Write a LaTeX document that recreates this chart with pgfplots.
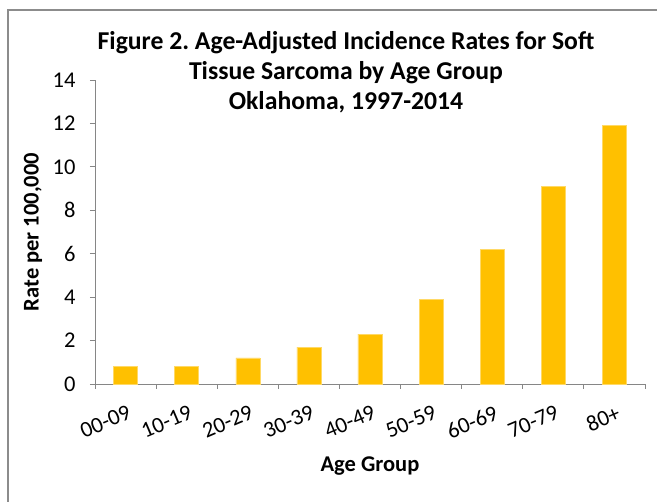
\documentclass[border=0pt]{standalone}
\usepackage{pgfplots}
\pgfplotsset{compat=1.18}
\usepackage{fontspec}
\setmainfont{Carlito}
\frenchspacing
\definecolor{barc}{HTML}{FFC000}
\definecolor{axc}{HTML}{868686}
\definecolor{frc}{HTML}{8C8C8C}
\begin{document}
\begin{tikzpicture}
\begin{axis}[
  scale only axis, width=550pt, height=304pt,
  xmin=-0.5, xmax=8.5, ymin=0, ymax=14,
  ytick={0,2,...,14},
  xtick={-0.5,0.5,...,8.5}, xticklabels={},
  extra x ticks={0,1,...,8},
  extra x tick labels={00-09,10-19,20-29,30-39,40-49,50-59,60-69,70-79,80+},
  extra x tick style={major tick length=0pt, tick label style={xshift=3pt, yshift=-16pt, rotate=23, anchor=north east}},
  axis lines=left,
  axis line style={axc, line width=0.8pt, -},
  tick style={axc, line width=0.8pt},
  tick align=outside,
  major tick length=5pt,
  /pgf/number format/assume math mode=true,
  tick label style={font=\fontsize{22.5}{26}\selectfont, black},
  yticklabel style={xshift=-11pt},
  clip=false,
]
\addplot[ybar, bar width=24pt, fill=barc, draw=barc!60!white, line width=0.5pt] coordinates {
(0,0.8) (1,0.8) (2,1.2) (3,1.7) (4,2.3) (5,3.9) (6,6.2) (7,9.1) (8,11.9)
};
\end{axis}
\begin{scope}[x=1pt,y=1pt]
\draw[frc, line width=2pt] (-87,-118) -- (-87,374) -- (562,374);
\node[font=\fontsize{25.7}{30}\selectfont\bfseries] at (251,341) {Figure 2. Age-Adjusted Incidence Rates for Soft};
\node[font=\fontsize{25.7}{30}\selectfont\bfseries] at (251,311) {Tissue Sarcoma by Age Group};
\node[font=\fontsize{25.7}{30}\selectfont\bfseries] at (251,282) {Oklahoma, 1997-2014};
\node[font=\fontsize{22.5}{26}\selectfont\bfseries, rotate=90] at (-62,152) {Rate per 100,000};
\node[font=\fontsize{22.5}{26}\selectfont\bfseries] at (275,-82) {Age Group};
\pgfresetboundingbox
\useasboundingbox (-95,-118) rectangle (562,384);
\end{scope}
\end{tikzpicture}
\end{document}
